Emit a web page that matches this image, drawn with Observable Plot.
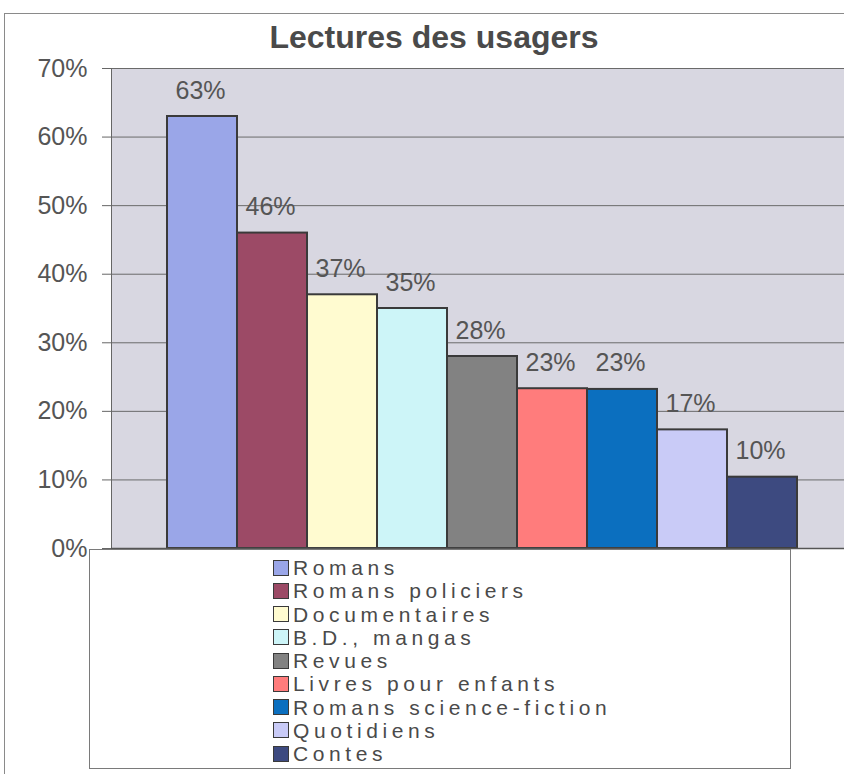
<!DOCTYPE html>
<html><head><meta charset="utf-8">
<script src="https://cdn.jsdelivr.net/npm/d3@7"></script>
<script src="https://cdn.jsdelivr.net/npm/@observablehq/plot@0.6"></script>
<style>
body{margin:0;background:#fff;font-family:"Liberation Sans",Arial,sans-serif;}
#wrap{position:relative;width:844px;height:774px;overflow:hidden;background:#fff;}
#frame{position:absolute;left:4px;top:13px;width:880px;height:800px;border:1px solid #8a8a8a;}
#title{position:absolute;left:0;top:19px;width:868px;text-align:center;font-weight:bold;font-size:32px;line-height:37px;color:#4a4a4a;}
#chart{position:absolute;left:0;top:50px;}
#chart svg{max-width:none;}
#legend{position:absolute;left:89px;top:549px;width:702px;height:220px;border:1px solid #7a7a7a;background:#fff;box-sizing:border-box;padding:6px 0 0 183px;}
.item{height:23.25px;line-height:23.25px;font-size:21px;color:#4a4a4a;white-space:nowrap;letter-spacing:4.6px;display:flex;align-items:center;}
.sw{display:inline-block;width:14px;height:14px;border:1.5px solid #3a3a3a;margin-right:4px;flex:none;}
</style></head>
<body>
<div id="wrap">
  <div id="frame"></div>
  <div id="title">Lectures des usagers</div>
  <div id="chart"></div>
  <div id="legend"></div>
</div>
<script>
const categories = ["Romans", "Romans policiers", "Documentaires", "B.D., mangas", "Revues", "Livres pour enfants", "Romans science-fiction", "Quotidiens", "Contes"];
const values = [63, 46, 37, 35, 28, 23.3, 23.2, 17.3, 10.4];
const colors = ["#9aa6e8", "#9c4a66", "#fffbd0", "#cdf5f8", "#828282", "#ff7c7c", "#0b6fbf", "#c9cbf7", "#3d4a80"];
const yTicks = [0, 10, 20, 30, 40, 50, 60, 70];

const data = categories.map((c, i) => ({cat: c, value: values[i]}));

const chart = Plot.plot({
  width: 870,
  height: 522,
  marginTop: 18,
  marginBottom: 24,
  marginLeft: 111,
  marginRight: 17,
  style: {fontFamily: "'Liberation Sans', Arial, sans-serif", background: "transparent", maxWidth: "none"},
  x: {domain: categories, paddingInner: 0, paddingOuter: 0.78, axis: null},
  y: {domain: [0, 70], axis: null},
  color: {domain: categories, range: colors},
  marks: [
    Plot.frame({fill: "#d8d7e1", stroke: null}),
    Plot.gridY(yTicks, {stroke: "#6a6a6a", strokeOpacity: 1, strokeWidth: 1}),
    Plot.barY(data, {x: "cat", y: "value", fill: "cat", stroke: "#3a3a3a", strokeWidth: 2, inset: 0}),
    Plot.text(data, {x: "cat", y: "value", text: d => Math.round(d.value) + "%", dy: -26, dx: -2, fontSize: 25, fill: "#555", letterSpacing: 4}),
    Plot.frame({anchor: "left", stroke: "#666"}),
    Plot.ruleY([0], {stroke: "#555", strokeWidth: 1.5}),
    Plot.axisY(yTicks, {label: null, tickFormat: d => d + "%", fontSize: 25, letterSpacing: 2, tickSize: 9, tickPadding: 15, fill: "#555", stroke: "#666"})
  ]
});
document.getElementById("chart").appendChild(chart);

const legend = document.getElementById("legend");
categories.forEach((c, i) => {
  const row = document.createElement("div");
  row.className = "item";
  const sw = document.createElement("span");
  sw.className = "sw";
  sw.style.background = colors[i];
  const t = document.createElement("span");
  t.textContent = c;
  row.appendChild(sw);
  row.appendChild(t);
  legend.appendChild(row);
});
</script>
</body></html>
